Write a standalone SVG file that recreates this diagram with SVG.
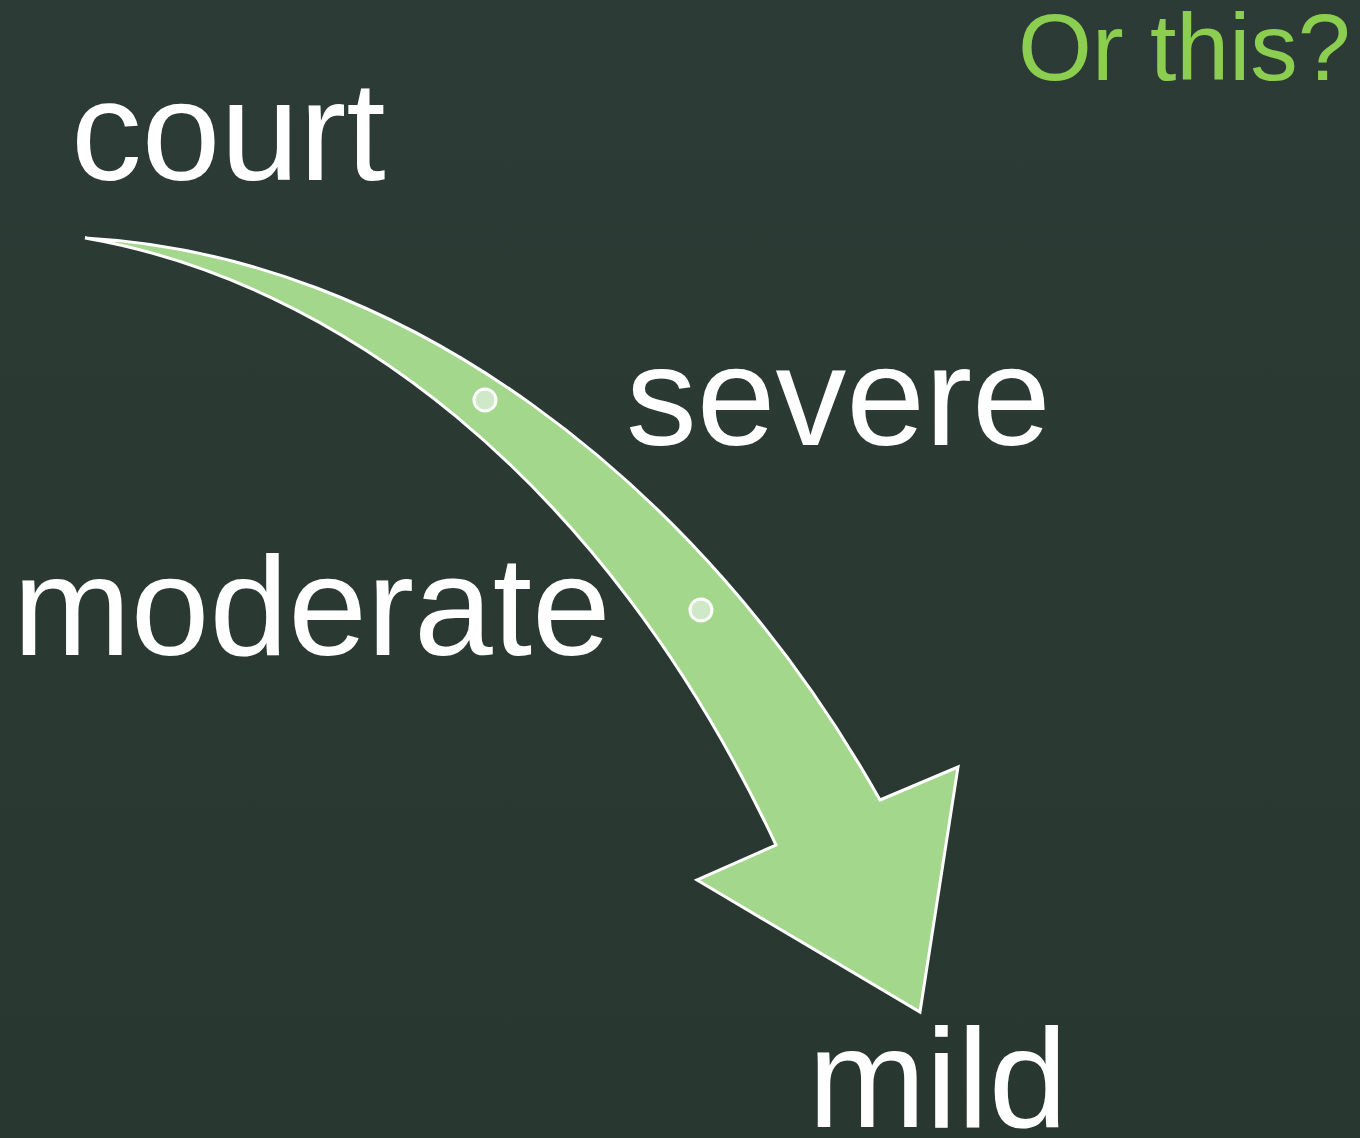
<svg xmlns="http://www.w3.org/2000/svg" width="1360" height="1138" viewBox="0 0 1360 1138">
<style>
.lbl{font-family:"Liberation Sans",Arial,sans-serif;font-size:141.5px;fill:#ffffff}
.dot{fill:#cfe8c8;stroke:#ffffff;stroke-width:3}
</style>
<defs>
<linearGradient id="bg" x1="0" y1="0" x2="0" y2="1">
<stop offset="0" stop-color="#2d3b36"/>
<stop offset="1" stop-color="#28372f"/>
</linearGradient>
</defs>
<rect width="1360" height="1138" fill="url(#bg)"/>
<g id="connectors">
<path id="arrow" d="M85,238 C400,255 700,480 880,800 L958,767 L920,1012 L697,880 L776,845 C600,470 330,280 85,238 Z" fill="#a3d78c" stroke="#ffffff" stroke-width="3" stroke-linejoin="miter"/>
<circle class="dot" cx="485" cy="400" r="11"/>
<circle class="dot" cx="701" cy="610" r="11"/>
</g>
<g id="court"><text class="lbl" x="71" y="180">court</text></g>
<g id="severe"><text class="lbl" x="626" y="445">severe</text></g>
<g id="moderate"><text class="lbl" x="13" y="655">moderate</text></g>
<g id="mild"><text class="lbl" x="808" y="1127">mild</text></g>
<g id="title"><text x="1018" y="80" font-family="Liberation Sans,Arial,sans-serif" font-size="95" fill="#8ccf50">Or this?</text></g>
</svg>
